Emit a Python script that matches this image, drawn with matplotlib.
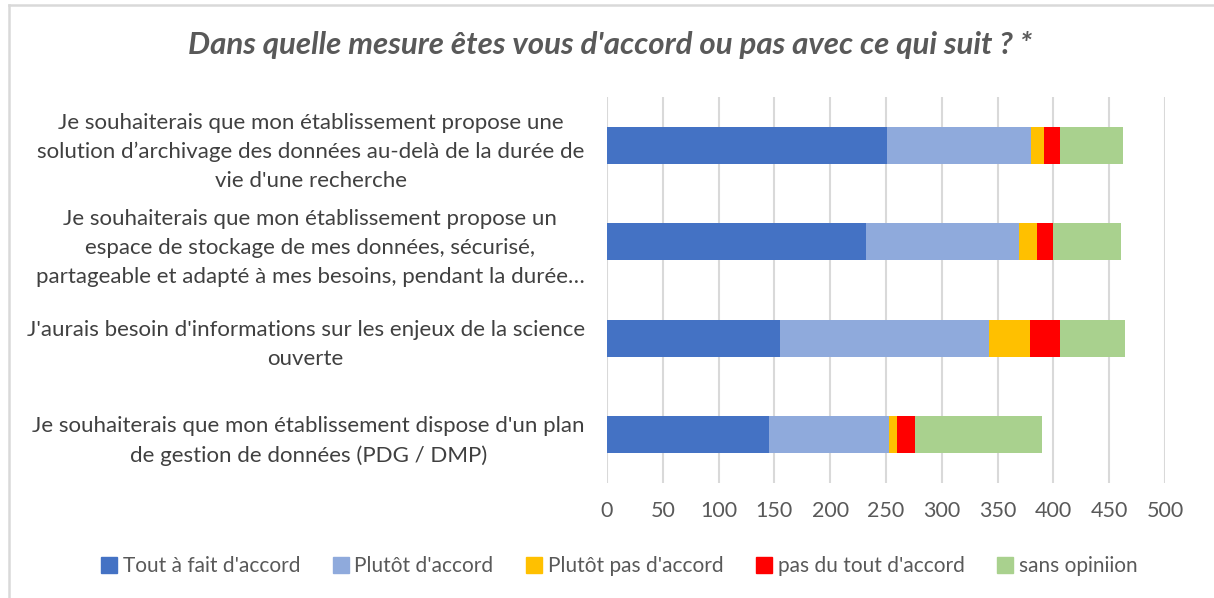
import numpy as np
import matplotlib
matplotlib.use("Agg")
from matplotlib import pyplot as plt
from matplotlib.lines import Line2D

# survey answers, one row per statement (top to bottom)
statements = [
    "Je souhaiterais que mon établissement propose une\nsolution d’archivage des données au-delà de la durée de\nvie d'une recherche",
    "Je souhaiterais que mon établissement propose un\nespace de stockage de mes données, sécurisé,\npartageable et adapté à mes besoins, pendant la durée…",
    "J'aurais besoin d'informations sur les enjeux de la science\nouverte",
    "Je souhaiterais que mon établissement dispose d'un plan\nde gestion de données (PDG / DMP)",
]
answers = ["Tout à fait d'accord", "Plutôt d'accord", "Plutôt pas d'accord",
           "pas du tout d'accord", "sans opiniion"]
tout_a_fait = [251, 232, 155, 145]
plutot = [129, 137, 187, 108]
plutot_pas = [12, 16, 37, 7]
pas_du_tout = [14, 15, 27, 16]
sans_opinion = [56, 61, 58, 114]
colors = ["#4472C4", "#8FAADC", "#FFC000", "#FF0000", "#A9D18E"]

series = [tout_a_fait, plutot, plutot_pas, pas_du_tout, sans_opinion]
grey = "#595959"
plt.rcParams["font.family"] = ["Lato", "DejaVu Sans"]

W, H = 1214, 598
fig = plt.figure(figsize=(W / 100, H / 100), dpi=100)
ax = fig.add_axes([607 / W, 1 - 483 / H, 558 / W, 386 / H])

y = np.arange(len(statements))
left = np.zeros(len(statements))
for vals, col in zip(series, colors):
    ax.barh(y, vals, left=left, height=0.38, color=col, zorder=3)
    left += np.array(vals)

ax.set_xlim(0, 500)
ax.set_ylim(len(statements) - 0.5, -0.5)
ax.set_xticks(np.arange(0, 501, 50))
ax.xaxis.grid(True, color="#d9d9d9", linewidth=1.5, zorder=0)
for s in ax.spines.values():
    s.set_visible(False)
ax.tick_params(axis="x", length=0, pad=13, labelsize=15.5, labelcolor=grey)
ax.tick_params(axis="y", length=0, pad=16, labelsize=16, labelcolor="#404040")
ax.set_yticks(y)
ax.set_yticklabels(statements, linespacing=1.55)
for t in ax.get_yticklabels():
    t.set_multialignment("center")

fig.text(610 / W, 1 - 45 / H, "Dans quelle mesure êtes vous d'accord ou pas avec ce qui suit ? *",
         ha="center", va="center", fontsize=22.5, style="italic", fontweight="bold", color=grey)

handles = [Line2D([], [], marker="s", linestyle="", markersize=12, color=c) for c in colors]
fig.legend(handles, answers, loc="center", bbox_to_anchor=(618 / W, 1 - 566 / H), ncol=5,
           frameon=False, fontsize=15, labelcolor=grey, handletextpad=0.15, columnspacing=1.45,
           handlelength=1.0)

# thin frame along the top and left edges
fig.add_artist(Line2D([9 / W, 9 / W], [0, 1 - 5 / H], color="#d9d9d9", lw=1.8))
fig.add_artist(Line2D([9 / W, 1], [1 - 5 / H, 1 - 5 / H], color="#d9d9d9", lw=1.8))

fig.savefig("out.png", dpi=100)
